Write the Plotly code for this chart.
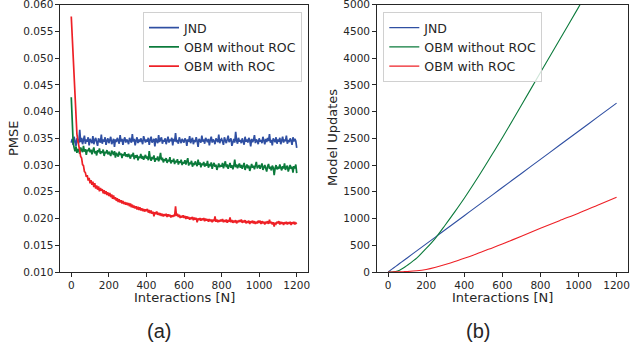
import plotly.graph_objects as go

# ---------------- data: panel (a) PMSE vs interactions (every 5 interactions) ----------------
interactions_a = list(range(0, 1201, 5))

pmse_jnd = [
    0.0342, 0.0349, 0.0338, 0.0353, 0.0344, 0.0336, 0.0350, 0.0346, 0.0341, 0.0366, 0.0343, 0.0351, 0.0339, 0.0347, 0.0355, 0.0340, 0.0348, 0.0344, 0.0352, 0.0337,
    0.0349, 0.0345, 0.0341, 0.0354, 0.0339, 0.0347, 0.0351, 0.0343, 0.0336, 0.0350, 0.0346, 0.0342, 0.0357, 0.0340, 0.0348, 0.0344, 0.0352, 0.0338, 0.0346, 0.0350,
    0.0341, 0.0347, 0.0353, 0.0339, 0.0345, 0.0349, 0.0334, 0.0348, 0.0343, 0.0351, 0.0346, 0.0340, 0.0356, 0.0344, 0.0349, 0.0338, 0.0347, 0.0352, 0.0342, 0.0348,
    0.0345, 0.0339, 0.0351, 0.0347, 0.0342, 0.0358, 0.0344, 0.0349, 0.0337, 0.0346, 0.0352, 0.0341, 0.0348, 0.0343, 0.0350, 0.0345, 0.0339, 0.0354, 0.0346, 0.0342,
    0.0348, 0.0344, 0.0351, 0.0338, 0.0347, 0.0353, 0.0342, 0.0346, 0.0349, 0.0335, 0.0350, 0.0345, 0.0341, 0.0356, 0.0343, 0.0348, 0.0352, 0.0340, 0.0347, 0.0344,
    0.0350, 0.0339, 0.0346, 0.0353, 0.0342, 0.0348, 0.0345, 0.0351, 0.0337, 0.0349, 0.0344, 0.0360, 0.0343, 0.0347, 0.0340, 0.0352, 0.0346, 0.0341, 0.0349, 0.0345,
    0.0342, 0.0350, 0.0347, 0.0336, 0.0348, 0.0344, 0.0354, 0.0341, 0.0346, 0.0351, 0.0339, 0.0347, 0.0343, 0.0352, 0.0345, 0.0334, 0.0349, 0.0346, 0.0342, 0.0355,
    0.0344, 0.0348, 0.0340, 0.0351, 0.0346, 0.0343, 0.0349, 0.0337, 0.0347, 0.0353, 0.0342, 0.0348, 0.0345, 0.0339, 0.0350, 0.0346, 0.0343, 0.0357, 0.0341, 0.0347,
    0.0349, 0.0344, 0.0338, 0.0352, 0.0346, 0.0341, 0.0348, 0.0355, 0.0343, 0.0347, 0.0350, 0.0336, 0.0345, 0.0349, 0.0342, 0.0362, 0.0346, 0.0340, 0.0351, 0.0344,
    0.0347, 0.0341, 0.0350, 0.0345, 0.0338, 0.0353, 0.0344, 0.0348, 0.0342, 0.0351, 0.0346, 0.0335, 0.0349, 0.0343, 0.0347, 0.0356, 0.0341, 0.0348, 0.0345, 0.0339,
    0.0350, 0.0344, 0.0347, 0.0341, 0.0353, 0.0346, 0.0339, 0.0349, 0.0343, 0.0351, 0.0345, 0.0358, 0.0342, 0.0347, 0.0337, 0.0350, 0.0346, 0.0343, 0.0352, 0.0340,
    0.0348, 0.0344, 0.0351, 0.0339, 0.0346, 0.0353, 0.0342, 0.0348, 0.0345, 0.0355, 0.0340, 0.0347, 0.0343, 0.0350, 0.0346, 0.0338, 0.0352, 0.0344, 0.0349, 0.0345,
    0.0332,
]

pmse_obm_no_roc = [
    0.0427, 0.0380, 0.0342, 0.0333, 0.0326, 0.0335, 0.0323, 0.0330, 0.0327, 0.0321, 0.0333, 0.0328, 0.0324, 0.0336, 0.0325, 0.0330, 0.0319, 0.0329, 0.0326, 0.0332,
    0.0324, 0.0329, 0.0320, 0.0327, 0.0333, 0.0322, 0.0326, 0.0318, 0.0328, 0.0324, 0.0331, 0.0321, 0.0326, 0.0323, 0.0329, 0.0317, 0.0325, 0.0322, 0.0328, 0.0320,
    0.0325, 0.0321, 0.0317, 0.0327, 0.0322, 0.0319, 0.0326, 0.0314, 0.0323, 0.0320, 0.0316, 0.0325, 0.0319, 0.0322, 0.0313, 0.0321, 0.0318, 0.0324, 0.0316, 0.0320,
    0.0315, 0.0321, 0.0317, 0.0312, 0.0320, 0.0316, 0.0323, 0.0311, 0.0318, 0.0314, 0.0319, 0.0309, 0.0316, 0.0313, 0.0321, 0.0312, 0.0317, 0.0310, 0.0315, 0.0319,
    0.0312, 0.0316, 0.0309, 0.0326, 0.0313, 0.0308, 0.0315, 0.0311, 0.0318, 0.0306, 0.0313, 0.0310, 0.0316, 0.0307, 0.0312, 0.0323, 0.0309, 0.0314, 0.0305, 0.0311,
    0.0308, 0.0313, 0.0304, 0.0310, 0.0307, 0.0315, 0.0303, 0.0309, 0.0306, 0.0312, 0.0302, 0.0308, 0.0305, 0.0311, 0.0301, 0.0307, 0.0304, 0.0310, 0.0300, 0.0306,
    0.0303, 0.0309, 0.0301, 0.0306, 0.0313, 0.0299, 0.0305, 0.0302, 0.0308, 0.0297, 0.0304, 0.0300, 0.0307, 0.0302, 0.0298, 0.0310, 0.0301, 0.0305, 0.0296, 0.0303,
    0.0300, 0.0306, 0.0297, 0.0303, 0.0299, 0.0308, 0.0295, 0.0302, 0.0298, 0.0305, 0.0293, 0.0300, 0.0304, 0.0297, 0.0301, 0.0291, 0.0299, 0.0303, 0.0296, 0.0300,
    0.0297, 0.0304, 0.0294, 0.0300, 0.0307, 0.0296, 0.0301, 0.0293, 0.0299, 0.0304, 0.0295, 0.0300, 0.0292, 0.0298, 0.0310, 0.0296, 0.0301, 0.0294, 0.0299, 0.0303,
    0.0295, 0.0300, 0.0293, 0.0298, 0.0304, 0.0291, 0.0297, 0.0301, 0.0294, 0.0299, 0.0289, 0.0296, 0.0302, 0.0295, 0.0299, 0.0292, 0.0298, 0.0306, 0.0294, 0.0297,
    0.0300, 0.0293, 0.0297, 0.0303, 0.0291, 0.0296, 0.0300, 0.0294, 0.0288, 0.0298, 0.0302, 0.0293, 0.0297, 0.0290, 0.0299, 0.0295, 0.0281, 0.0294, 0.0300, 0.0292,
    0.0297, 0.0293, 0.0301, 0.0295, 0.0290, 0.0298, 0.0294, 0.0303, 0.0291, 0.0296, 0.0299, 0.0288, 0.0295, 0.0300, 0.0293, 0.0297, 0.0286, 0.0298, 0.0294, 0.0301,
    0.0285,
]

pmse_obm_roc = [
    0.0578, 0.0538, 0.0493, 0.0452, 0.0418, 0.0386, 0.0358, 0.0346, 0.0331, 0.0327, 0.0316, 0.0313, 0.0301, 0.0299, 0.0288, 0.0286, 0.0278, 0.0281, 0.0271, 0.0276,
    0.0266, 0.0272, 0.0263, 0.0269, 0.0259, 0.0266, 0.0256, 0.0262, 0.0254, 0.0260, 0.0251, 0.0257, 0.0252, 0.0255, 0.0247, 0.0253, 0.0246, 0.0251, 0.0244, 0.0249,
    0.0242, 0.0248, 0.0240, 0.0245, 0.0237, 0.0243, 0.0236, 0.0240, 0.0233, 0.0238, 0.0231, 0.0236, 0.0230, 0.0234, 0.0228, 0.0233, 0.0227, 0.0231, 0.0226, 0.0230,
    0.0225, 0.0229, 0.0223, 0.0228, 0.0221, 0.0226, 0.0220, 0.0224, 0.0219, 0.0223, 0.0217, 0.0222, 0.0216, 0.0221, 0.0215, 0.0219, 0.0214, 0.0218, 0.0213, 0.0217,
    0.0214, 0.0218, 0.0211, 0.0216, 0.0210, 0.0215, 0.0209, 0.0213, 0.0204, 0.0212, 0.0208, 0.0213, 0.0207, 0.0211, 0.0206, 0.0210, 0.0205, 0.0209, 0.0204, 0.0208,
    0.0205, 0.0209, 0.0203, 0.0208, 0.0204, 0.0207, 0.0202, 0.0206, 0.0203, 0.0207, 0.0204, 0.0223, 0.0205, 0.0209, 0.0203, 0.0207, 0.0201, 0.0205, 0.0202, 0.0206,
    0.0201, 0.0205, 0.0199, 0.0204, 0.0200, 0.0203, 0.0198, 0.0202, 0.0199, 0.0203, 0.0197, 0.0202, 0.0198, 0.0201, 0.0193, 0.0200, 0.0197, 0.0201, 0.0196, 0.0200,
    0.0197, 0.0201, 0.0195, 0.0200, 0.0196, 0.0199, 0.0194, 0.0199, 0.0195, 0.0198, 0.0193, 0.0198, 0.0195, 0.0204, 0.0194, 0.0198, 0.0193, 0.0197, 0.0194, 0.0198,
    0.0195, 0.0199, 0.0193, 0.0197, 0.0194, 0.0198, 0.0192, 0.0197, 0.0194, 0.0202, 0.0193, 0.0197, 0.0192, 0.0196, 0.0193, 0.0197, 0.0191, 0.0196, 0.0193, 0.0197,
    0.0194, 0.0198, 0.0192, 0.0196, 0.0193, 0.0197, 0.0191, 0.0195, 0.0192, 0.0196, 0.0190, 0.0195, 0.0192, 0.0196, 0.0191, 0.0195, 0.0190, 0.0194, 0.0191, 0.0196,
    0.0192, 0.0196, 0.0190, 0.0195, 0.0191, 0.0194, 0.0189, 0.0194, 0.0191, 0.0195, 0.0190, 0.0198, 0.0191, 0.0194, 0.0189, 0.0193, 0.0185, 0.0192, 0.0190, 0.0194,
    0.0191, 0.0195, 0.0189, 0.0194, 0.0190, 0.0193, 0.0188, 0.0193, 0.0190, 0.0194, 0.0189, 0.0193, 0.0190, 0.0194, 0.0188, 0.0193, 0.0190, 0.0194, 0.0189, 0.0192,
    0.0190,
]

# ---------------- data: panel (b) model updates vs interactions ----------------
interactions_b = [0, 20, 40, 60, 80, 100, 150, 200, 250, 300, 350, 400, 450, 500,
                  550, 600, 700, 800, 900, 1000, 1100, 1200]
updates_jnd = [0, 53, 105, 158, 211, 263, 395, 527, 658, 790, 921, 1053, 1185, 1317,
               1448, 1580, 1843, 2107, 2370, 2633, 2897, 3160]
updates_obm_no_roc = [0, 0, 10, 35, 75, 125, 260, 440, 640, 880, 1125, 1380, 1650, 1930,
                      2220, 2510, 3120, 3730, 4340, 4950, 5560, 6170]
updates_obm_roc = [0, 1, 2, 4, 6, 9, 22, 48, 90, 140, 195, 256, 320, 390,
                   455, 523, 670, 817, 960, 1100, 1250, 1400]

series_names = ["JND", "OBM without ROC", "OBM with ROC"]
colors = ["#2f4fa2", "#0b7a3b", "#ee2026"]

x_ticks = [0, 200, 400, 600, 800, 1000, 1200]
pmse_ticks = [0.010, 0.015, 0.020, 0.025, 0.030, 0.035, 0.040, 0.045, 0.050, 0.055, 0.060]
update_ticks = [0, 500, 1000, 1500, 2000, 2500, 3000, 3500, 4000, 4500, 5000]

fig = go.Figure()

for name, ys, c in zip(series_names, [pmse_jnd, pmse_obm_no_roc, pmse_obm_roc], colors):
    fig.add_trace(go.Scatter(x=interactions_a, y=ys, name=name, mode="lines",
                             line=dict(color=c, width=1.7), xaxis="x", yaxis="y",
                             legend="legend"))

for name, ys, c in zip(series_names, [updates_jnd, updates_obm_no_roc, updates_obm_roc], colors):
    fig.add_trace(go.Scatter(x=interactions_b, y=ys, name=name, mode="lines",
                             line=dict(color=c, width=1.1, shape="spline", smoothing=0.8),
                             xaxis="x2", yaxis="y2", legend="legend2"))

W, H = 632, 353
ydom = [1 - 272 / H, 1 - 4.7 / H]
tick_font = dict(family="DejaVu Sans", size=10.5, color="#262626")
axis_common = dict(showline=True, linecolor="#262626", linewidth=1.1, mirror=True,
                   ticks="outside", ticklen=3.5, tickwidth=1, tickcolor="#262626",
                   showgrid=False, zeroline=False, tickfont=tick_font,
                   automargin=False, ticklabeloverflow="allow")

legend_font = dict(family="DejaVu Sans", size=12.5, color="#262626")
fig.update_layout(
    width=W, height=H,
    margin=dict(l=0, r=0, t=0, b=0, autoexpand=False),
    paper_bgcolor="white", plot_bgcolor="white",
    font=dict(family="DejaVu Sans", color="#262626"),
    xaxis=dict(domain=[60 / W, 308 / W], range=[-60, 1260], tickvals=x_ticks,
               anchor="y", **axis_common),
    yaxis=dict(domain=ydom, range=[0.010, 0.060], tickvals=pmse_ticks,
               tickformat=".3f", anchor="x", **axis_common),
    xaxis2=dict(domain=[376.7 / W, 628 / W], range=[-60, 1260], tickvals=x_ticks,
                anchor="y2", **axis_common),
    yaxis2=dict(domain=ydom, range=[0, 5000], tickvals=update_ticks,
                anchor="x2", **axis_common),
    legend=dict(x=302 / W, y=1 - 12 / H, xanchor="right", yanchor="top",
                bgcolor="rgba(255,255,255,0.8)", bordercolor="#d0d0d0", borderwidth=1,
                font=legend_font, tracegroupgap=0, itemwidth=30),
    legend2=dict(x=383.3 / W, y=1 - 12 / H, xanchor="left", yanchor="top",
                 bgcolor="rgba(255,255,255,0.8)", bordercolor="#d0d0d0", borderwidth=1,
                 font=legend_font, tracegroupgap=0, itemwidth=30),
    showlegend=True,
)

title_font = dict(family="DejaVu Sans", size=13, color="#262626")
annotations = [
    dict(text="PMSE", x=13 / W, y=1 - 138 / H, textangle=-90, font=title_font),
    dict(text="Model Updates", x=332 / W, y=1 - 138 / H, textangle=-90, font=title_font),
    dict(text="Interactions [N]", x=184 / W, y=1 - 297 / H, font=title_font),
    dict(text="Interactions [N]", x=502 / W, y=1 - 297 / H, font=title_font),
    dict(text="(a)", x=159 / W, y=1 - 331 / H,
         font=dict(family="Liberation Sans", size=20, color="#262626")),
    dict(text="(b)", x=478 / W, y=1 - 331 / H,
         font=dict(family="Liberation Sans", size=20, color="#262626")),
]
for a in annotations:
    a.update(xref="paper", yref="paper", showarrow=False, xanchor="center", yanchor="middle")
fig.update_layout(annotations=annotations)

fig.write_html("out.html", config={"displayModeBar": False},
               post_script="document.body.style.margin='0px';document.body.style.overflow='hidden';")
